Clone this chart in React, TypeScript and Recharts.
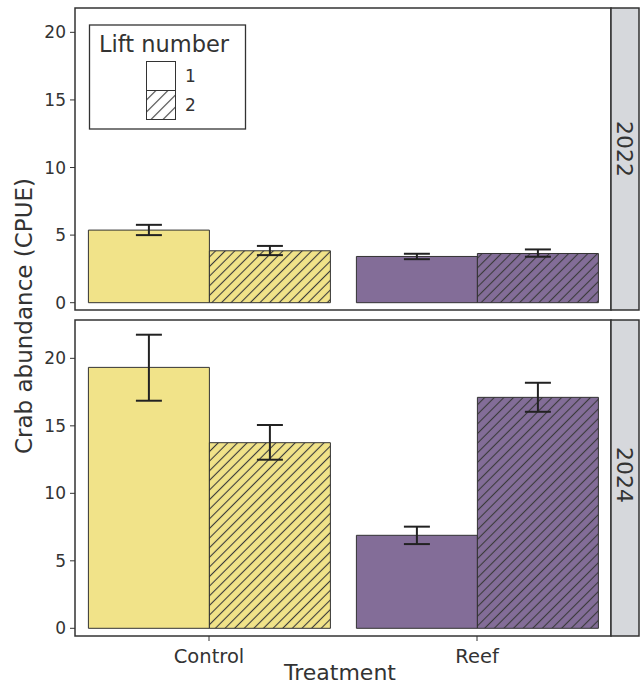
import { Bar, BarChart, Cell, ErrorBar, XAxis, YAxis } from 'recharts';

const treatments = ['Control', 'Reef'];
const years = ['2022', '2024'];
const liftLabels = ['1', '2'];
const yTicks = [0, 5, 10, 15, 20];

// 2022 panel
const lift1Mean2022 = [5.37, 3.42];
const lift1Low2022 = [5.0, 3.22];
const lift1High2022 = [5.76, 3.62];
const lift2Mean2022 = [3.84, 3.64];
const lift2Low2022 = [3.52, 3.4];
const lift2High2022 = [4.2, 3.94];

// 2024 panel
const lift1Mean2024 = [19.33, 6.89];
const lift1Low2024 = [16.86, 6.24];
const lift1High2024 = [21.75, 7.53];
const lift2Mean2024 = [13.75, 17.11];
const lift2Low2024 = [12.49, 16.04];
const lift2High2024 = [15.06, 18.19];

const YELLOW = '#F1E389';
const PURPLE = '#836D98';
const INK = '#333333';
const FONT = 'DejaVu Sans';

function buildRows(
  m1: number[], lo1: number[], hi1: number[],
  m2: number[], lo2: number[], hi2: number[],
) {
  return treatments.map((t, i) => ({
    treatment: t,
    lift1: m1[i],
    lift1Err: [m1[i] - lo1[i], hi1[i] - m1[i]],
    lift2: m2[i],
    lift2Err: [m2[i] - lo2[i], hi2[i] - m2[i]],
  }));
}

const rows2022 = buildRows(lift1Mean2022, lift1Low2022, lift1High2022, lift2Mean2022, lift2Low2022, lift2High2022);
const rows2024 = buildRows(lift1Mean2024, lift1Low2024, lift1High2024, lift2Mean2024, lift2Low2024, lift2High2024);

const solidFill = (t: string) => (t === 'Control' ? YELLOW : PURPLE);
const hatchFill = (t: string) => (t === 'Control' ? 'url(#hatch-yellow)' : 'url(#hatch-purple)');

function HatchPattern({ id, bg, size }: { id: string; bg: string; size: number }) {
  return (
    <pattern id={id} patternUnits="userSpaceOnUse" width={size} height={size} patternTransform="rotate(45)">
      <rect width={size} height={size} fill={bg} />
      <line x1={size / 2} y1={0} x2={size / 2} y2={size} stroke="#3a3a3a" strokeWidth={1.1} />
    </pattern>
  );
}

function PanelBars({ rows }: { rows: ReturnType<typeof buildRows> }) {
  return [
    <Bar key="l1" dataKey="lift1" stroke={INK} strokeWidth={1} isAnimationActive={false}>
      {rows.map((r) => (
        <Cell key={r.treatment} fill={solidFill(r.treatment)} />
      ))}
      <ErrorBar dataKey="lift1Err" direction="y" width={13} strokeWidth={2} stroke="#222" isAnimationActive={false} />
    </Bar>,
    <Bar key="l2" dataKey="lift2" stroke={INK} strokeWidth={1} isAnimationActive={false}>
      {rows.map((r) => (
        <Cell key={r.treatment} fill={hatchFill(r.treatment)} />
      ))}
      <ErrorBar dataKey="lift2Err" direction="y" width={13} strokeWidth={2} stroke="#222" isAnimationActive={false} />
    </Bar>,
  ];
}

const yTick = { fill: INK, fontSize: 17, fontFamily: FONT };

export default function App() {
  return (
    <div style={{ position: 'absolute', left: 0, top: 0, width: 641, height: 684, background: '#fff' }}>
      <svg width={0} height={0} style={{ position: 'absolute' }}>
        <defs>
          <HatchPattern id="hatch-yellow" bg={YELLOW} size={6.8} />
          <HatchPattern id="hatch-purple" bg={PURPLE} size={6.8} />
          <HatchPattern id="hatch-white" bg="#ffffff" size={8.5} />
        </defs>
      </svg>

      <div style={{ position: 'absolute', left: 0, top: 0 }}>
        <BarChart
          width={641}
          height={320}
          data={rows2022}
          margin={{ top: 8, right: 30, bottom: 10, left: 0 }}
          barCategoryGap="5%"
          barGap={0}
        >
          <XAxis dataKey="treatment" hide />
          <YAxis
            width={75}
            domain={[-0.54, 21.8]}
            ticks={yTicks}
            allowDataOverflow
            axisLine={false}
            tickSize={5}
            tickMargin={4}
            tickLine={{ stroke: INK }}
            tick={yTick}
          />
          {PanelBars({ rows: rows2022 })}
        </BarChart>
      </div>

      <div style={{ position: 'absolute', left: 0, top: 310 }}>
        <BarChart
          width={641}
          height={374}
          data={rows2024}
          margin={{ top: 10, right: 30, bottom: 0, left: 0 }}
          barCategoryGap="5%"
          barGap={0}
        >
          <XAxis
            dataKey="treatment"
            height={48}
            axisLine={false}
            tickSize={5}
            tickMargin={8}
            tickLine={{ stroke: INK }}
            tick={{ fill: INK, fontSize: 19.5, fontFamily: FONT }}
          />
          <YAxis
            width={75}
            domain={[-0.57, 22.84]}
            ticks={yTicks}
            allowDataOverflow
            axisLine={false}
            tickSize={5}
            tickMargin={4}
            tickLine={{ stroke: INK }}
            tick={yTick}
          />
          {PanelBars({ rows: rows2024 })}
        </BarChart>
      </div>

      <svg
        width={641}
        height={684}
        style={{ position: 'absolute', left: 0, top: 0, pointerEvents: 'none' }}
        fontFamily={FONT}
      >
        {/* panel frames + facet strips */}
        <rect x={75} y={8} width={536} height={302} fill="none" stroke={INK} strokeWidth={1.5} />
        <rect x={611} y={8} width={28} height={302} fill="#D6D8DC" stroke={INK} strokeWidth={1.5} />
        <rect x={75} y={320} width={536} height={316} fill="none" stroke={INK} strokeWidth={1.5} />
        <rect x={611} y={320} width={28} height={316} fill="#D6D8DC" stroke={INK} strokeWidth={1.5} />
        <text transform="translate(617,149) rotate(90)" textAnchor="middle" fontSize={22} fill={INK}>
          {years[0]}
        </text>
        <text transform="translate(617,475) rotate(90)" textAnchor="middle" fontSize={22} fill={INK}>
          {years[1]}
        </text>

        {/* legend */}
        <rect x={89.5} y={25} width={156} height={104} fill="#fff" stroke={INK} strokeWidth={1.3} />
        <text x={99} y={52} fontSize={22.5} fill={INK}>
          Lift number
        </text>
        <rect x={146.5} y={61.5} width={29} height={29} fill="#fff" stroke={INK} strokeWidth={1} />
        <rect x={146.5} y={90.5} width={29} height={29} fill="url(#hatch-white)" stroke={INK} strokeWidth={1} />
        <text x={185} y={82} fontSize={17} fill={INK}>
          {liftLabels[0]}
        </text>
        <text x={185} y={111} fontSize={17} fill={INK}>
          {liftLabels[1]}
        </text>

        {/* axis titles */}
        <text transform="translate(32,316) rotate(-90)" textAnchor="middle" fontSize={23} fill={INK}>
          Crab abundance (CPUE)
        </text>
        <text x={340} y={680} textAnchor="middle" fontSize={22} fill={INK}>
          Treatment
        </text>
      </svg>
    </div>
  );
}
